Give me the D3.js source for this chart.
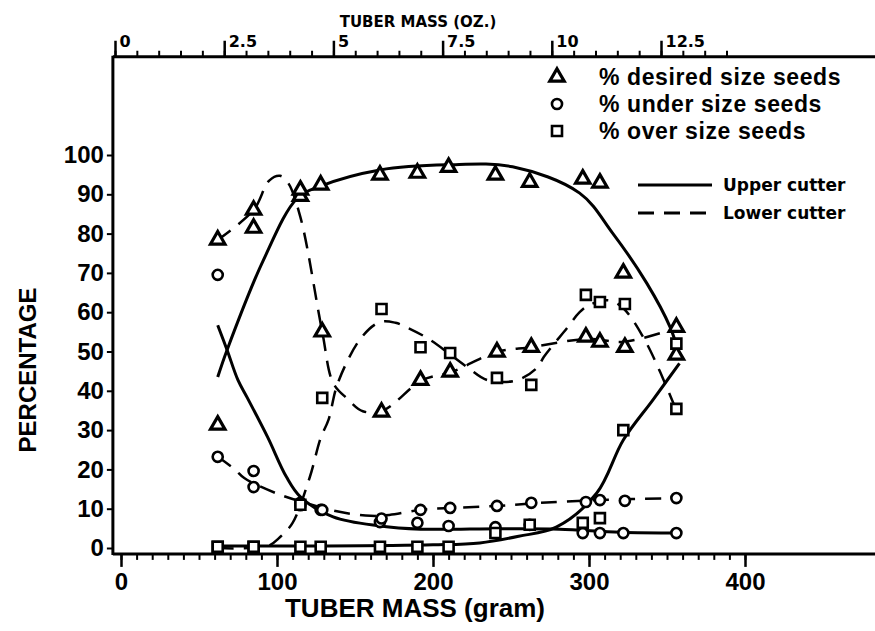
<!DOCTYPE html>
<html>
<head>
<meta charset="utf-8">
<script src="https://cdn.jsdelivr.net/npm/d3@7"></script>
<style>
  body { margin: 0; background: #fff; }
  svg { display: block; }
</style>
</head>
<body>
<div id="vis"><svg></svg></div>
<script>
// tuber mass (gram) of the measured lots
var massUpper = [62, 85, 115, 128, 166, 190, 210, 240, 262, 296, 307, 322, 356];
var massLower = [62, 85, 115, 129, 167, 192, 211, 241, 263, 298, 307, 323, 356];

// measured percentages, upper cutter
var desiredUpper = [31.3, 81.4, 89.5, 92.4, 94.9, 95.4, 96.9, 94.9, 93.1, 93.9, 92.9, 70.0, 49.1];
var underUpper   = [69.5, 15.5, 10.9, 9.7, 6.6, 6.4, 5.6, 5.3, 5.9, 3.8, 3.8, 3.8, 3.8];
var overUpper    = [0.3, 0.3, 0.3, 0.3, 0.3, 0.3, 0.3, 3.8, 5.9, 6.4, 7.6, 30.0, 52.0];

// measured percentages, lower cutter
var desiredLower = [78.4, 86.0, 91.1, 55.0, 34.6, 42.7, 44.8, 49.9, 51.1, 53.7, 52.4, 51.1, 56.2];
var underLower   = [23.2, 19.6, 11.5, 9.7, 7.5, 9.7, 10.2, 10.7, 11.5, 11.7, 12.2, 12.0, 12.7];
var overLower    = [0.3, 0.3, 11.0, 38.2, 60.8, 51.1, 49.6, 43.3, 41.5, 64.4, 62.6, 62.1, 35.4];

// fitted curves as drawn in the figure, [gram, percent]
var fitDesiredUpper = [[62, 43.5], [68, 50.4], [91, 73], [113, 89], [128, 92.1], [166, 96.2], [209, 97.5],
  [251, 97], [294, 90.3], [315, 80.2], [337, 67.4], [352, 56.2], [358, 49]];
var fitUnderUpper = [[62, 56.7], [68, 50.4], [75, 42.7], [81, 38.2], [94, 28.2], [106, 18.1], [115, 13],
  [136, 7.9], [166, 5.6], [192, 4.8], [243, 4.9], [281, 4.8], [320, 4], [358, 3.8]];
var fitOverUpper = [[62, 0.5], [130, 0.5], [200, 0.8], [230, 1.3], [255, 3], [279, 5.3], [305, 14],
  [322, 27.5], [341, 37.7], [358, 47]];
var fitDesiredLower = [[62, 78.4], [85, 86], [95, 93.5], [102, 94.7], [107, 93], [115, 84.2], [129, 55],
  [136, 42], [145, 38], [155, 34.8], [168, 35], [193, 42.7], [212, 44.8], [241, 49.9], [263, 51.1],
  [299, 53.2], [323, 52.5], [356, 56]];
var fitUnderLower = [[62, 23.2], [73, 20], [79, 17.8], [99, 14], [118, 11.5], [140, 9.2], [160, 8.2],
  [172, 8.4], [192, 9.7], [212, 10.2], [241, 10.7], [269, 11.5], [307, 12.2], [356, 12.7]];
var fitOverLower = [[62, 0], [94, 0.5], [102, 2.8], [110, 6.4], [121, 18], [128, 28], [133, 32.6],
  [139, 42], [154, 53.5], [166, 57.5], [176, 57.3], [184, 56], [198, 53], [222, 46], [235, 42.7],
  [254, 42.7], [267, 46], [271, 48.6], [286, 56], [294, 60], [301, 62], [313, 63], [322, 61],
  [337, 52], [356, 35]];

var yTicks = [0, 10, 20, 30, 40, 50, 60, 70, 80, 90, 100];
var gramTicks = [0, 100, 200, 300, 400];
var ozTicks = [0, 2.5, 5, 7.5, 10, 12.5];

var legendSeries = ["% desired size seeds", "% under size seeds", "% over size seeds"];
var legendLines = ["Upper cutter", "Lower cutter"];

var width = 875, height = 631;

var svg = d3.select("#vis").select("svg")
    .attr("width", width)
    .attr("height", height);

var x = d3.scaleLinear().domain([0, 400]).range([121, 745]);
var y = d3.scaleLinear().domain([0, 100]).range([548, 155]);
var oz = d3.scaleLinear().domain([0, 12.5]).range([115, 661]);

var plotLeft = x(-5.2), plotTop = y(125), plotBottom = y(-1.5);

var boldSans = "'Liberation Sans', Arial, Helvetica, sans-serif";
var wideSans = "'DejaVu Sans', sans-serif";

// frame
svg.append("line").attr("x1", plotLeft).attr("x2", plotLeft).attr("y1", plotTop - 1).attr("y2", plotBottom + 1)
    .attr("stroke", "#000").attr("stroke-width", 3);
svg.append("line").attr("x1", plotLeft).attr("x2", width).attr("y1", plotBottom).attr("y2", plotBottom)
    .attr("stroke", "#000").attr("stroke-width", 3);
svg.append("line").attr("x1", plotLeft).attr("x2", width).attr("y1", plotTop).attr("y2", plotTop)
    .attr("stroke", "#000").attr("stroke-width", 3);

// y axis
var yAxis = svg.append("g")
    .attr("transform", "translate(" + plotLeft + ",0)")
    .call(d3.axisLeft(y).tickValues(yTicks).tickSize(6).tickPadding(3));
yAxis.select(".domain").remove();
yAxis.selectAll("line").attr("stroke-width", 2);
yAxis.selectAll("text").attr("font-family", boldSans).attr("font-weight", "bold")
    .attr("font-size", 24).attr("fill", "#000");

// bottom axis, gram
var xMinor = svg.append("g")
    .attr("transform", "translate(0," + plotBottom + ")")
    .call(d3.axisBottom(x).tickValues(d3.range(0, 401, 10)).tickSize(6).tickFormat(""));
xMinor.select(".domain").remove();
xMinor.selectAll("line").attr("stroke-width", 2);

var xAxis = svg.append("g")
    .attr("transform", "translate(0," + plotBottom + ")")
    .call(d3.axisBottom(x).tickValues(gramTicks).tickSize(13).tickPadding(6));
xAxis.select(".domain").remove();
xAxis.selectAll("line").attr("stroke-width", 2.5);
xAxis.selectAll("text").attr("font-family", boldSans).attr("font-weight", "bold")
    .attr("font-size", 24).attr("fill", "#000");

// top axis, ounces
var ozMinor = svg.append("g")
    .attr("transform", "translate(0," + plotTop + ")")
    .call(d3.axisTop(oz).tickValues(d3.range(0, 14.01, 0.5)).tickSize(6).tickFormat(""));
ozMinor.select(".domain").remove();
ozMinor.selectAll("line").attr("stroke-width", 2);

var ozAxis = svg.append("g")
    .attr("transform", "translate(0," + plotTop + ")")
    .call(d3.axisTop(oz).tickValues(ozTicks).tickSize(16)
      .tickFormat(function(d) { return String(d); }));
ozAxis.select(".domain").remove();
ozAxis.selectAll("line").attr("stroke-width", 2.5);
ozAxis.selectAll("text")
    .attr("x", 4).attr("y", -10).attr("dy", null)
    .attr("text-anchor", "start")
    .attr("font-family", wideSans).attr("font-weight", "bold")
    .attr("font-size", 16).attr("fill", "#000");

svg.append("text")
    .attr("x", 418).attr("y", 27)
    .attr("text-anchor", "middle")
    .attr("font-family", wideSans).attr("font-weight", "bold").attr("font-size", 15)
    .text("TUBER MASS (OZ.)");

// axis titles
svg.append("text")
    .attr("x", 415).attr("y", 617)
    .attr("text-anchor", "middle")
    .attr("font-family", boldSans).attr("font-weight", "bold").attr("font-size", 26)
    .text("TUBER MASS (gram)");

svg.append("text")
    .attr("transform", "translate(36,370) rotate(-90)")
    .attr("text-anchor", "middle")
    .attr("font-family", boldSans).attr("font-weight", "bold").attr("font-size", 24)
    .text("PERCENTAGE");

// fitted curves
var line = d3.line()
    .curve(d3.curveCatmullRom.alpha(0.5))
    .x(function(d) { return x(d[0]); })
    .y(function(d) { return y(d[1]); });

var fits = [
  {pts: fitDesiredUpper, dash: null},
  {pts: fitUnderUpper, dash: null},
  {pts: fitOverUpper, dash: null},
  {pts: fitDesiredLower, dash: "16,10"},
  {pts: fitUnderLower, dash: "16,10"},
  {pts: fitOverLower, dash: "16,10"}
];

svg.selectAll(".fit")
    .data(fits)
    .enter().append("path")
    .attr("class", "fit")
    .attr("d", function(d) { return line(d.pts); })
    .attr("fill", "none")
    .attr("stroke", "#000")
    .attr("stroke-width", function(d) { return d.dash ? 2.5 : 3; })
    .attr("stroke-dasharray", function(d) { return d.dash; });

// markers
var shapes = {
  tri: d3.symbol().type(d3.symbolTriangle).size(90),
  circ: d3.symbol().type(d3.symbolCircle).size(80),
  sq: d3.symbol().type(d3.symbolSquare).size(100)
};
var strokes = {tri: 3.2, circ: 2.6, sq: 2.6};

var pointSets = [
  {mass: massUpper, vals: desiredUpper, shape: "tri"},
  {mass: massLower, vals: desiredLower, shape: "tri"},
  {mass: massUpper, vals: underUpper, shape: "circ"},
  {mass: massLower, vals: underLower, shape: "circ"},
  {mass: massUpper, vals: overUpper, shape: "sq"},
  {mass: massLower, vals: overLower, shape: "sq"}
];

pointSets.forEach(function(s) {
  svg.append("g").selectAll("path")
      .data(s.vals)
      .enter().append("path")
      .attr("transform", function(d, i) { return "translate(" + x(s.mass[i]) + "," + y(d) + ")"; })
      .attr("d", shapes[s.shape]())
      .attr("fill", "#fff")
      .attr("stroke", "#000")
      .attr("stroke-width", strokes[s.shape]);
});

// legend
var legShapes = ["tri", "circ", "sq"];
var leg = svg.append("g");
legendSeries.forEach(function(t, i) {
  var yy = 77 + i * 27;
  leg.append("path")
      .attr("transform", "translate(557," + yy + ")")
      .attr("d", shapes[legShapes[i]]())
      .attr("fill", "#fff").attr("stroke", "#000").attr("stroke-width", strokes[legShapes[i]]);
  leg.append("text")
      .attr("x", 599).attr("y", yy + 8)
      .attr("font-family", boldSans).attr("font-weight", "bold").attr("font-size", 23)
      .attr("letter-spacing", 0.6)
      .text(t);
});

legendLines.forEach(function(t, i) {
  var yy = 185 + i * 28;
  leg.append("line")
      .attr("x1", 638).attr("x2", 712).attr("y1", yy).attr("y2", yy)
      .attr("stroke", "#000").attr("stroke-width", 3)
      .attr("stroke-dasharray", i ? "16,10" : null);
  leg.append("text")
      .attr("x", 723).attr("y", yy + 6)
      .attr("font-family", wideSans).attr("font-weight", "bold").attr("font-size", 17)
      .text(t);
});
</script>
</body>
</html>
